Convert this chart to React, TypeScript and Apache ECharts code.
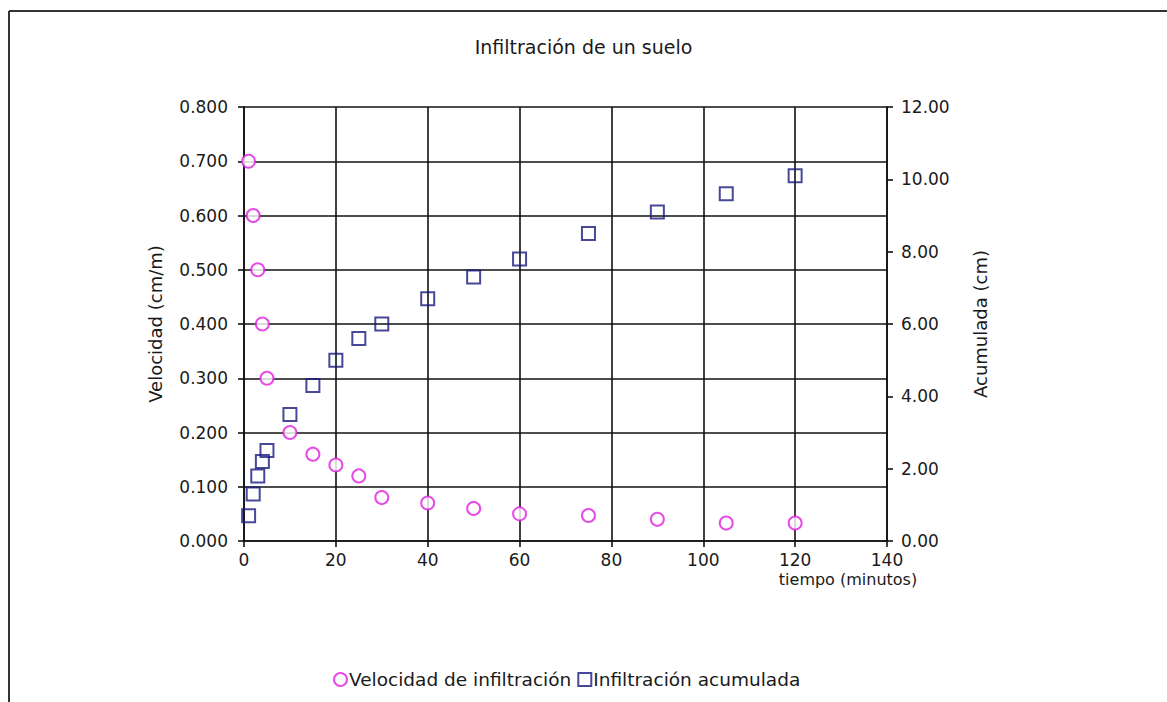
import React, { useEffect, useRef } from "react";
import * as echarts from "echarts";

const tiempoVel = [1, 2, 3, 4, 5, 10, 15, 20, 25, 30, 40, 50, 60, 75, 90, 105, 120];
const velocidad = [0.7, 0.6, 0.5, 0.4, 0.3, 0.2, 0.16, 0.14, 0.12, 0.08, 0.07, 0.06, 0.05, 0.047, 0.04, 0.033, 0.033];
const tiempoAcu = [1, 2, 3, 4, 5, 10, 15, 20, 25, 30, 40, 50, 60, 75, 90, 105, 120];
const acumulada = [0.7, 1.3, 1.8, 2.2, 2.5, 3.5, 4.3, 5.0, 5.6, 6.0, 6.7, 7.3, 7.8, 8.5, 9.1, 9.6, 10.1];

const FONT = "'DejaVu Sans', 'Liberation Sans', sans-serif";

export default function App() {
  const ref = useRef<HTMLDivElement>(null);
  useEffect(() => {
    if (!ref.current) return;
    const chart = echarts.init(ref.current, undefined, { renderer: "svg" });
    const lineStyle = { color: "#111", width: 1.6 };
    const txt = "#1a1a1a";
    chart.setOption({
      animation: false,
      backgroundColor: "#fff",
      textStyle: { fontFamily: FONT },
      title: {
        text: "Infiltración de un suelo",
        left: "center",
        top: 32,
        textStyle: { fontFamily: FONT, fontSize: 19, fontWeight: "normal", color: txt },
      },
      legend: {
        bottom: 8,
        left: 328,
        itemWidth: 13,
        itemHeight: 13,
        itemGap: 6,
        textStyle: { fontFamily: FONT, fontSize: 18.5, color: txt, padding: [0, 0, 0, -3] },
        data: [
          { name: "Velocidad de infiltración", icon: "circle" },
          { name: "Infiltración acumulada", icon: "rect" },
        ],
      },
      grid: { left: 244, right: 280, top: 107, bottom: 161 },
      xAxis: {
        type: "value",
        min: 0,
        max: 140,
        interval: 20,
        axisLine: { show: true, lineStyle },
        axisTick: { show: true, length: 6, lineStyle },
        axisLabel: { margin: 10, fontSize: 17, color: txt, fontFamily: FONT },
        splitLine: { show: true, lineStyle },
      },
      yAxis: [
        {
          type: "value",
          min: 0,
          max: 0.8,
          interval: 0.1,
          name: "Velocidad (cm/m)",
          nameLocation: "middle",
          nameGap: 80,
          nameTextStyle: { fontSize: 18, color: txt, fontFamily: FONT },
          axisLine: { show: true, lineStyle },
          axisTick: { show: true, length: 6, lineStyle },
          axisLabel: { margin: 16, fontSize: 17, color: txt, fontFamily: FONT, formatter: (v: number) => v.toFixed(3) },
          splitLine: { show: true, lineStyle },
        },
        {
          type: "value",
          min: 0,
          max: 12,
          interval: 2,
          position: "right",
          name: "Acumulada (cm)",
          nameLocation: "middle",
          nameGap: 84,
          nameTextStyle: { fontSize: 18, color: txt, fontFamily: FONT },
          axisLine: { show: true, lineStyle },
          axisTick: { show: true, length: 6, lineStyle },
          axisLabel: { margin: 14, fontSize: 17, color: txt, fontFamily: FONT, formatter: (v: number) => v.toFixed(2) },
          splitLine: { show: false },
        },
      ],
      graphic: [
        { type: "line", shape: { x1: 9, y1: 11, x2: 1167, y2: 11 }, style: { stroke: "#333", lineWidth: 2 } },
        { type: "line", shape: { x1: 9, y1: 11, x2: 9, y2: 702 }, style: { stroke: "#333", lineWidth: 2 } },
        {
          type: "text",
          x: 848,
          y: 579,
          style: { text: "tiempo (minutos)", font: `16px ${FONT}`, fill: txt, align: "center", verticalAlign: "middle" },
        },
      ],
      series: [
        {
          name: "Velocidad de infiltración",
          type: "scatter",
          yAxisIndex: 0,
          symbol: "circle",
          symbolSize: 13,
          itemStyle: { color: "#fff", borderColor: "#e020e0", borderWidth: 2 },
          data: tiempoVel.map((t, i) => [t, velocidad[i]]),
          z: 3,
        },
        {
          name: "Infiltración acumulada",
          type: "scatter",
          yAxisIndex: 1,
          symbol: "rect",
          symbolSize: 13,
          itemStyle: { color: "rgba(255,255,255,0)", borderColor: "#1a1a80", borderWidth: 2 },
          data: tiempoAcu.map((t, i) => [t, acumulada[i]]),
          z: 4,
        },
      ],
    });
    return () => chart.dispose();
  }, []);
  return (
    <div
      ref={ref}
      style={{ position: "fixed", left: 0, top: 0, width: 1167, height: 702 }}
    />
  );
}
